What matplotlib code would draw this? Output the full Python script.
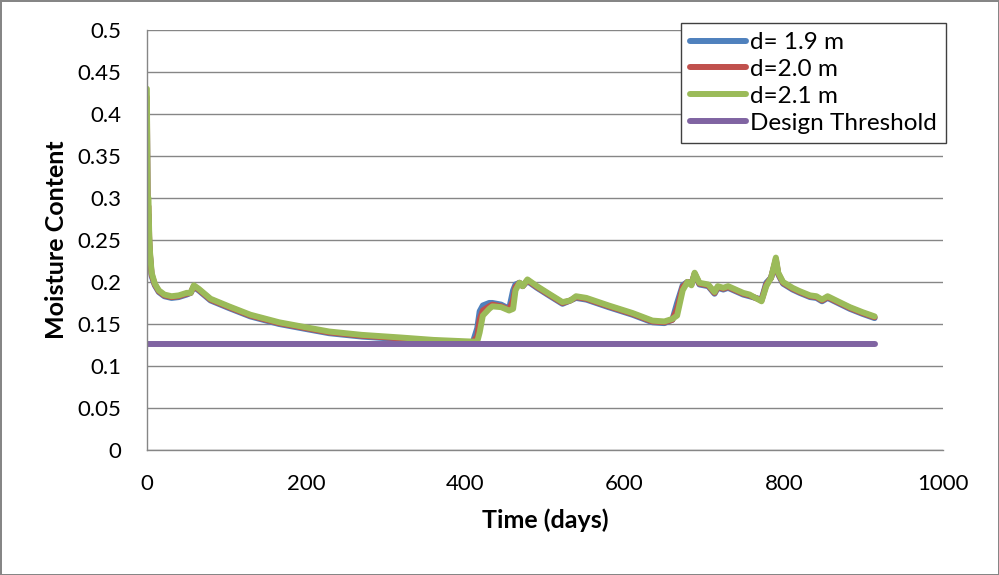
import matplotlib
matplotlib.use('Agg')
import matplotlib.pyplot as plt

plt.rcParams['font.family'] = ['Lato', 'DejaVu Sans']

days = [0, 0.5, 1, 2, 3, 4, 6, 10, 15, 22, 31, 40, 50, 55, 59, 65, 80, 103, 130, 166,
        200, 229, 270, 317, 360, 409, 415, 418, 422, 430, 434, 445, 455, 460, 463, 468,
        472, 478, 490, 505, 522, 532, 539, 552, 580, 610, 635, 650, 660, 666, 673, 679,
        684, 688, 694, 705, 713, 717, 724, 730, 749, 757, 772, 778, 784, 790, 793, 799,
        811, 820, 833, 841, 848, 855, 870, 883, 899, 914]

d21 = [0.43, 0.36, 0.30, 0.30, 0.255, 0.235, 0.211, 0.198, 0.19, 0.185, 0.183, 0.184,
       0.187, 0.187, 0.196, 0.192, 0.18, 0.171, 0.161, 0.152, 0.146, 0.141, 0.137, 0.134,
       0.131, 0.129, 0.129, 0.14, 0.16, 0.168, 0.171, 0.17, 0.166, 0.168, 0.19, 0.199,
       0.195, 0.203, 0.195, 0.186, 0.176, 0.178, 0.183, 0.181, 0.172, 0.163, 0.154, 0.153,
       0.156, 0.16, 0.19, 0.2, 0.196, 0.211, 0.199, 0.197, 0.188, 0.195, 0.193, 0.195,
       0.187, 0.185, 0.177, 0.195, 0.205, 0.229, 0.211, 0.2, 0.193, 0.189, 0.184, 0.183,
       0.179, 0.183, 0.176, 0.17, 0.164, 0.159]

d20 = [0.42, 0.35, 0.29, 0.29, 0.25, 0.232, 0.209, 0.197, 0.189, 0.184, 0.182, 0.183,
       0.186, 0.187, 0.195, 0.191, 0.179, 0.17, 0.16, 0.151, 0.145, 0.14, 0.136, 0.133,
       0.13, 0.128, 0.135, 0.155, 0.166, 0.171, 0.173, 0.171, 0.167, 0.178, 0.194, 0.199,
       0.195, 0.202, 0.194, 0.185, 0.175, 0.178, 0.182, 0.18, 0.171, 0.162, 0.153, 0.152,
       0.155, 0.168, 0.194, 0.2, 0.197, 0.21, 0.198, 0.196, 0.187, 0.194, 0.192, 0.194,
       0.186, 0.184, 0.178, 0.197, 0.205, 0.227, 0.21, 0.199, 0.192, 0.188, 0.183, 0.182,
       0.178, 0.182, 0.175, 0.169, 0.163, 0.158]

d19 = [0.41, 0.34, 0.28, 0.28, 0.245, 0.23, 0.207, 0.196, 0.188, 0.183, 0.181, 0.182,
       0.185, 0.187, 0.194, 0.19, 0.178, 0.169, 0.159, 0.15, 0.144, 0.139, 0.135, 0.132,
       0.129, 0.127, 0.145, 0.165, 0.172, 0.175, 0.175, 0.173, 0.168, 0.19, 0.197, 0.199,
       0.195, 0.201, 0.193, 0.184, 0.174, 0.178, 0.181, 0.179, 0.17, 0.161, 0.152, 0.151,
       0.155, 0.175, 0.196, 0.2, 0.198, 0.209, 0.197, 0.195, 0.186, 0.193, 0.191, 0.193,
       0.185, 0.183, 0.179, 0.199, 0.205, 0.225, 0.209, 0.198, 0.191, 0.187, 0.182, 0.181,
       0.177, 0.181, 0.174, 0.168, 0.162, 0.157]

threshold_days = [0, 914]
threshold = [0.126, 0.126]

fig = plt.figure(figsize=(9.99, 5.75), dpi=100)
fig.patch.set_edgecolor('#868686')
fig.patch.set_linewidth(2)
ax = fig.add_axes([0.147, 0.2174, 0.797, 0.7306])

lw = 4.3
ax.plot(days, d19, color='#4F81BD', lw=lw, label='d= 1.9 m', solid_capstyle='round', solid_joinstyle='round')
ax.plot(days, d20, color='#C0504D', lw=lw, label='d=2.0 m', solid_capstyle='round', solid_joinstyle='round')
ax.plot(days, d21, color='#9BBB59', lw=lw, label='d=2.1 m', solid_capstyle='round', solid_joinstyle='round')
ax.plot(threshold_days, threshold, color='#8064A2', lw=lw, label='Design Threshold',
        solid_capstyle='round')

ax.set_xlim(0, 1000)
ax.set_ylim(0, 0.5)
ax.set_xticks([0, 200, 400, 600, 800, 1000])
yt = [0, 0.05, 0.1, 0.15, 0.2, 0.25, 0.3, 0.35, 0.4, 0.45, 0.5]
ax.set_yticks(yt)
ax.set_yticklabels(['0', '0.05', '0.1', '0.15', '0.2', '0.25', '0.3', '0.35', '0.4', '0.45', '0.5'])
ax.tick_params(length=0, labelsize=16)
ax.tick_params(axis='y', pad=18.5)
ax.tick_params(axis='x', pad=17)
ax.grid(axis='y', color='#868686', lw=1)
ax.set_axisbelow(True)
for s in ['top', 'right']:
    ax.spines[s].set_visible(False)
for s in ['left', 'bottom']:
    ax.spines[s].set_color('#868686')
    ax.spines[s].set_linewidth(1)

ax.set_xlabel('Time (days)', fontsize=18, fontweight='bold', labelpad=11)
ax.set_ylabel('Moisture Content', fontsize=18, fontweight='bold', labelpad=7)

leg = ax.legend(loc='upper right', bbox_to_anchor=(1.004, 1.0167), fontsize=17.5,
                frameon=True, fancybox=False, edgecolor='#404040', handlelength=2.3,
                handletextpad=0.18, borderpad=0.38, labelspacing=0.24, borderaxespad=0,
                framealpha=1)
leg.get_frame().set_linewidth(1)

fig.savefig('out.png', dpi=100)
